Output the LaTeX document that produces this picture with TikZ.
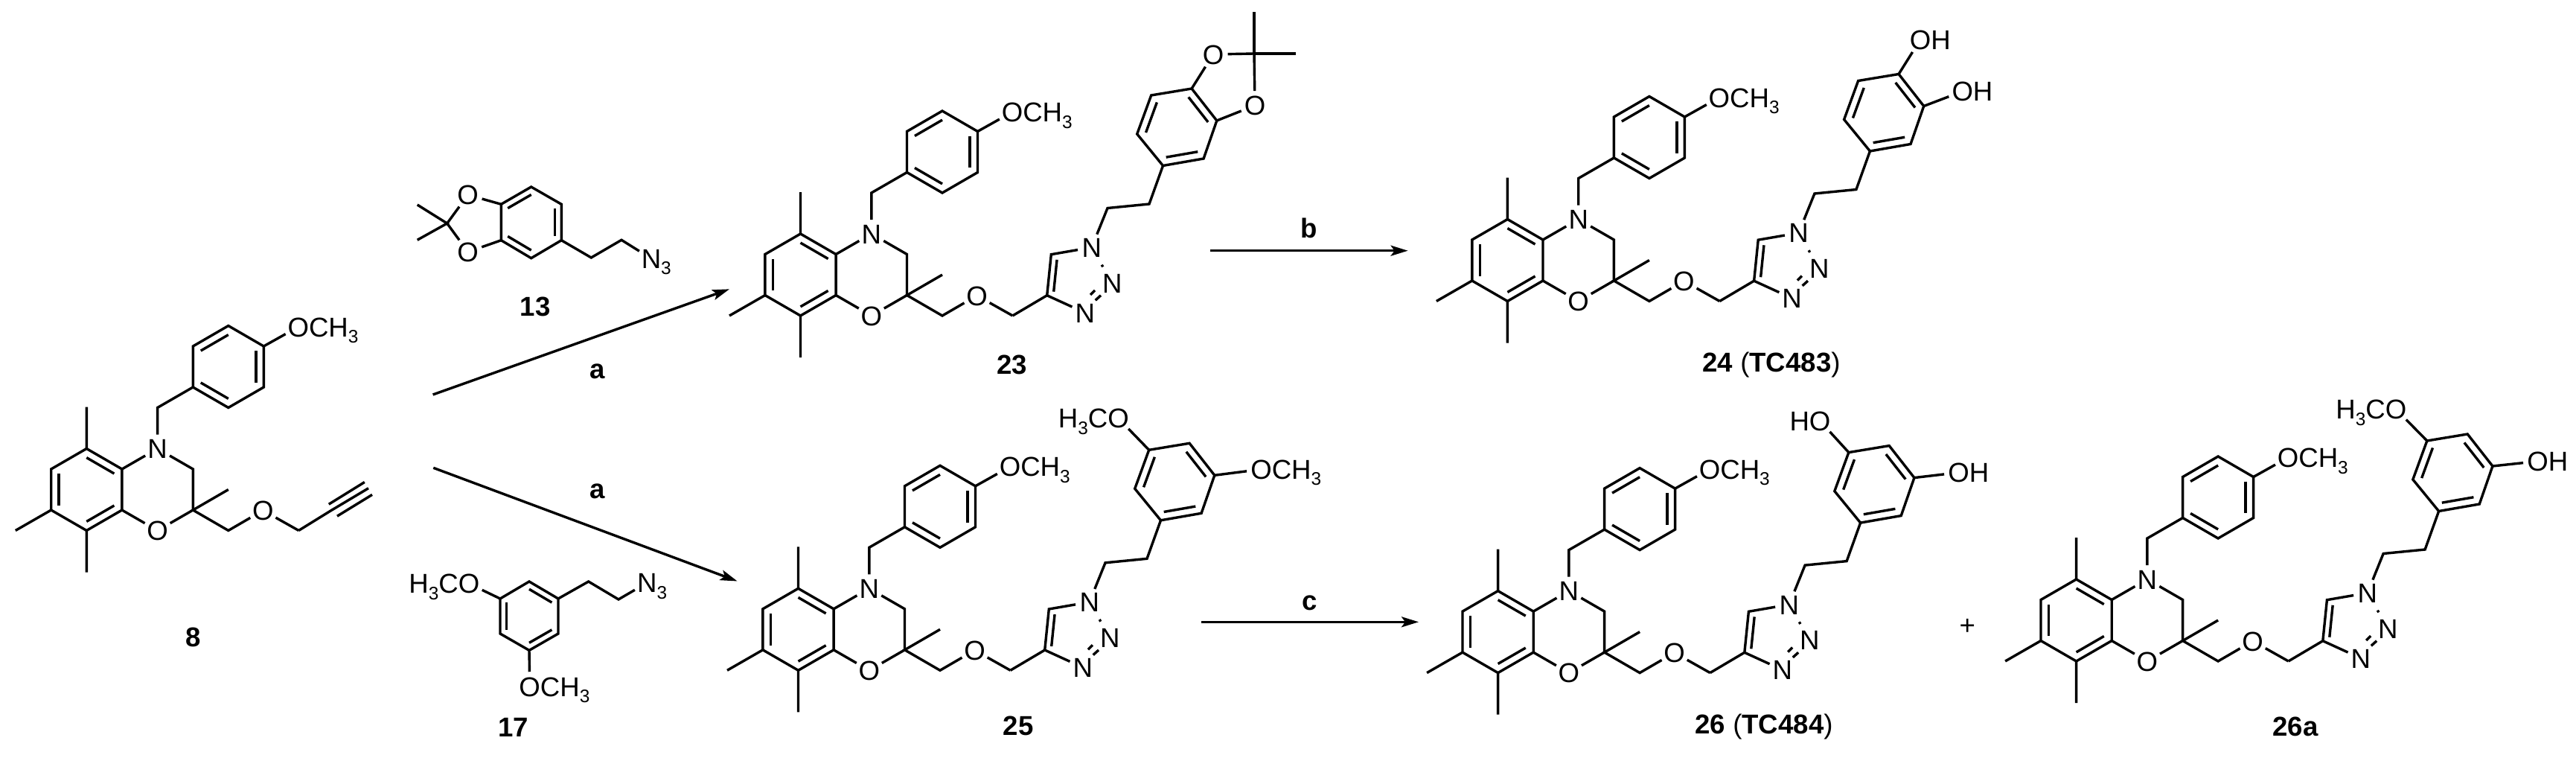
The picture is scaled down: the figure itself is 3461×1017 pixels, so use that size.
\documentclass[tikz,border=0pt]{standalone}
\usepackage{fontspec}
\setmainfont{Liberation Sans}
\usetikzlibrary{calc,arrows.meta}
\newcommand\sbt{\raisebox{-4.2pt}{\fontsize{12.2}{12.2}\selectfont 3}}
\newcommand\atomfont{\fontsize{18.3}{20}\selectfont}
\newcommand\labfont{\fontsize{18.3}{20}\selectfont\bfseries}
\tikzset{
  bond/.style={line width=1.7pt},
  atom/.style={circle,inner sep=0pt,font=\atomfont,text height=13.1pt,text depth=0pt},
  lab/.style={inner sep=0pt,font=\labfont},
  rxn/.style={line width=1.7pt,-{Stealth[length=11.5pt,width=7pt,inset=2.5pt]}},
}
% inner line of a double bond, pulled towards the ring centre
\newcommand\dbl[3]{\draw[bond] ($(#1)!.22!(#3)$) -- ($(#2)!.22!(#3)$);}
% benzoxazine core with p-methoxybenzyl
\newcommand\core[3]{%
 \begin{scope}[shift={(#1,#2)}]
  \coordinate (#3ca) at (0,0);
  \coordinate (#3a1) at (0,-55);
  \coordinate (#3a2) at (47.6,-27.5);
  \coordinate (#3a3) at (47.6,27.5);
  \coordinate (#3a4) at (0,55);
  \coordinate (#3a5) at (-47.6,27.5);
  \coordinate (#3a6) at (-47.6,-27.5);
  \coordinate (#3m1) at (0,-111);
  \coordinate (#3m4) at (0,111);
  \coordinate (#3m5) at (-95.5,55);
  \node[atom] (#3N) at (95.3,-55) {N};
  \node[atom] (#3O) at (95.3,55) {O};
  \coordinate (#3c3) at (143,-27.5);
  \coordinate (#3c2) at (143,27.5);
  \coordinate (#3me) at (190.5,0);
  \coordinate (#3ch) at (190.5,55);
  \node[atom] (#3Oe) at (237,28) {O};
  \coordinate (#3cj) at (285,55);
  \coordinate (#3bn) at (95.3,-110);
  \coordinate (#3cp) at (190.5,-165);
  \coordinate (#3p1) at (143,-137.5);
  \coordinate (#3p2) at (143,-192.5);
  \coordinate (#3p3) at (190.5,-220);
  \coordinate (#3p4) at (238,-192.5);
  \coordinate (#3p5) at (238,-137.5);
  \coordinate (#3p6) at (190.5,-110);
  \node[atom] (#3Om) at (284.5,-218.5) {O\rlap{CH\sbt}};
 \end{scope}
 \draw[bond] (#3a1)--(#3a2)--(#3a3)--(#3a4)--(#3a5)--(#3a6)--cycle;
 \dbl{#3a1}{#3a2}{#3ca}\dbl{#3a3}{#3a4}{#3ca}\dbl{#3a5}{#3a6}{#3ca}
 \draw[bond] (#3a1)--(#3m1) (#3a4)--(#3m4) (#3a5)--(#3m5);
 \draw[bond] (#3a2)--(#3N)--(#3c3)--(#3c2)--(#3O)--(#3a3);
 \draw[bond] (#3me)--(#3c2)--(#3ch)--(#3Oe)--(#3cj);
 \draw[bond] (#3N)--(#3bn)--(#3p1);
 \draw[bond] (#3p1)--(#3p2)--(#3p3)--(#3p4)--(#3p5)--(#3p6)--cycle;
 \dbl{#3p2}{#3p3}{#3cp}\dbl{#3p4}{#3p5}{#3cp}\dbl{#3p6}{#3p1}{#3cp}
 \draw[bond] (#3p4)--(#3Om);
}
% triazole, ethylene link and aryl ring
\newcommand\arm[3]{%
 \begin{scope}[shift={(#1,#2)}]
  \coordinate (#3t4) at (331.2,27.7);
  \coordinate (#3t5) at (336.8,-27.3);
  \coordinate (#3ct) at (372,5);
  \node[atom] (#3n1) at (391.2,-36.7) {N};
  \node[atom] (#3n2) at (418.8,11) {N};
  \node[atom] (#3n3) at (382.2,51) {N};
  \coordinate (#3d1) at (389.5,27);
  \coordinate (#3d2) at (395.5,21);
  \coordinate (#3d3) at (396.2,34.3);
  \coordinate (#3d4) at (403.5,27.7);
  \coordinate (#3e1) at (412.5,-89.5);
  \coordinate (#3e2) at (468.5,-95);
  \coordinate (#3cv) at (506,-198);
  \coordinate (#3v1) at (487,-146.5);
  \coordinate (#3v2) at (541.6,-156);
  \coordinate (#3v3) at (559.3,-207);
  \coordinate (#3v4) at (525.6,-250);
  \coordinate (#3v5) at (471.2,-241);
  \coordinate (#3v6) at (452.2,-189);
 \end{scope}
 \draw[bond] (#3cj)--(#3t4)--(#3t5)--(#3n1);
 \draw[bond] (#3t4)--(#3n3);
 \draw[bond,shorten <=4pt,shorten >=3pt] (#3n1)--(#3n2);
 \draw[bond] (#3d1)--(#3d2) (#3d3)--(#3d4);
 \dbl{#3t4}{#3t5}{#3ct}
 \draw[bond] (#3n1)--(#3e1)--(#3e2)--(#3v1);
 \draw[bond] (#3v1)--(#3v2)--(#3v3)--(#3v4)--(#3v5)--(#3v6)--cycle;
 \dbl{#3v1}{#3v2}{#3cv}\dbl{#3v3}{#3v4}{#3cv}\dbl{#3v5}{#3v6}{#3cv}
}
\newcommand\subst[8]{% x y prefix name relx rely text vertex
 \node[atom] (#3#4) at ($(#1,#2)+(#5,#6)$) {#7};
 \draw[bond] (#3#8)--(#3#4);
}
\begin{document}
\begin{tikzpicture}[x=0.5pt,y=-0.5pt]
\useasboundingbox (0,0) rectangle (3461,1017);

% --- 8
\core{116.3}{657.5}{h}
\begin{scope}[shift={(116.3,657.5)}]
  \coordinate (hy0) at (328.7,28);
  \coordinate (hy1) at (378.7,-1.8);
  \coordinate (hy2) at (325.5,19.7);
  \coordinate (hy3) at (373.5,-10);
  \coordinate (hy4) at (336.7,35.7);
  \coordinate (hy5) at (383.7,6.9);
\end{scope}
\draw[bond] (hcj)--(hy0)--(hy1) (hy2)--(hy3) (hy4)--(hy5);
\node[lab] (l8) at (259.2,855.5) {8};

% --- 13
\coordinate (k1) at (673.3,274.3);
\coordinate (k2) at (713.7,251);
\coordinate (k3) at (754.3,274.3);
\coordinate (k4) at (754.3,322.7);
\coordinate (k5) at (713.7,346.7);
\coordinate (k6) at (673.3,322.7);
\coordinate (kc) at (713.8,298.5);
\coordinate (kq) at (600.7,300);
\coordinate (kma) at (560.7,275);
\coordinate (kmb) at (560.7,322.3);
\node[atom] (kO1) at (628.7,261.7) {O};
\node[atom] (kO2) at (628.7,338.3) {O};
\coordinate (ke1) at (794.3,346);
\coordinate (ke2) at (835,322.3);
\node[atom] (kN) at (875,347.3) {N\rlap{\sbt}};
\draw[bond] (k1)--(k2)--(k3)--(k4)--(k5)--(k6)--cycle;
\dbl{k1}{k2}{kc}\dbl{k3}{k4}{kc}\dbl{k5}{k6}{kc}
\draw[bond] (k1)--(kO1)--(kq)--(kO2)--(k6);
\draw[bond] (kma)--(kq)--(kmb);
\draw[bond] (k4)--(ke1)--(ke2)--(kN);
\node[lab] (l13) at (719.3,411.7) {13};

% --- 17
\coordinate (s1) at (672,804);
\coordinate (s2) at (711,781);
\coordinate (s3) at (750,804);
\coordinate (s4) at (750,851);
\coordinate (s5) at (711,873.4);
\coordinate (s6) at (672,851);
\coordinate (sc) at (711,827.5);
\node[atom] (sO1) at (630,783.8) {\llap{H\sbt C}O};
\node[atom] (sO2) at (711.7,921.9) {O\rlap{CH\sbt}};
\coordinate (se1) at (790.7,781);
\coordinate (se2) at (831,805);
\node[atom] (sN) at (869.3,782.7) {N\rlap{\sbt}};
\draw[bond] (s1)--(s2)--(s3)--(s4)--(s5)--(s6)--cycle;
\dbl{s2}{s3}{sc}\dbl{s4}{s5}{sc}\dbl{s6}{s1}{sc}
\draw[bond] (s1)--(sO1) (s5)--(sO2);
\draw[bond] (s3)--(se1)--(se2)--(sN);
\node[lab] (l17) at (689.8,976.7) {17};

% --- 23
\core{1075.5}{369}{c}
\arm{1075.5}{369}{c}
\begin{scope}[shift={(1075.5,369)}]
  \node[atom] (cO1) at (554.5,-296) {O};
  \node[atom] (cO2) at (610.5,-227.3) {O};
  \coordinate (cq) at (609.5,-297);
  \coordinate (cmu) at (609.5,-353.3);
  \coordinate (cmr) at (665.3,-297);
\end{scope}
\draw[bond] (cv4)--(cO1)--(cq)--(cO2)--(cv3);
\draw[bond] (cq)--(cmu) (cq)--(cmr);
\node[lab] (l23) at (1359.7,490) {23};

% --- 24
\core{2025.4}{349.5}{b}
\arm{2025.4}{349.5}{b}
\subst{2025.4}{349.5}{b}{O1}{554.6}{-296.2}{O\rlap{H}}{v4}
\subst{2025.4}{349.5}{b}{O2}{611.3}{-226.8}{O\rlap{H}}{v3}
\node[lab] (l24) at (2380,490) {24 {\mdseries(}TC483{\mdseries)}};

% --- 25
\core{1072.5}{845.3}{e}
\arm{1072.5}{845.3}{e}
\subst{1072.5}{845.3}{e}{O1}{430}{-283.5}{\llap{H\sbt C}O}{v5}
\subst{1072.5}{845.3}{e}{O2}{622}{-215}{O\rlap{CH\sbt}}{v3}
\node[lab] (l25) at (1368,975.2) {25};

% --- 26
\core{2012.6}{848.6}{f}
\arm{2012.6}{848.6}{f}
\subst{2012.6}{848.6}{f}{O1}{432.6}{-283.3}{\llap{H}O}{v5}
\subst{2012.6}{848.6}{f}{O2}{619}{-214}{O\rlap{H}}{v3}
\node[lab] (l26) at (2370,976) {26 {\mdseries(}TC484{\mdseries)}};

% --- 26a
\core{2789.6}{833}{g}
\arm{2789.6}{833}{g}
\subst{2789.6}{833}{g}{O1}{429.4}{-283.5}{\llap{H\sbt C}O}{v5}
\subst{2789.6}{833}{g}{O2}{620}{-213.5}{O\rlap{H}}{v3}
\node[lab] (l26a) at (3084,976) {26a};
\node[font=\atomfont,inner sep=0pt] (plus) at (2643.2,841.6) {+};

% --- reaction arrows
\coordinate (ra1) at (581.6,530);
\coordinate (ra2) at (980,388.3);
\coordinate (rb1) at (582.3,628.3);
\coordinate (rb2) at (990.6,780.5);
\coordinate (rc1) at (1625.8,336.7);
\coordinate (rc2) at (1891.6,336.7);
\coordinate (rd1) at (1614,835.3);
\coordinate (rd2) at (1906,835.3);
\draw[rxn] (ra1)--(ra2);
\draw[rxn] (rb1)--(rb2);
\draw[rxn] (rc1)--(rc2);
\draw[rxn] (rd1)--(rd2);
\node[lab] (la1) at (802.7,499.3) {a};
\node[lab] (la2) at (802.7,660) {a};
\node[lab] (lb) at (1759,306.7) {b};
\node[lab] (lc) at (1759.3,810) {c};
\end{tikzpicture}
\end{document}
